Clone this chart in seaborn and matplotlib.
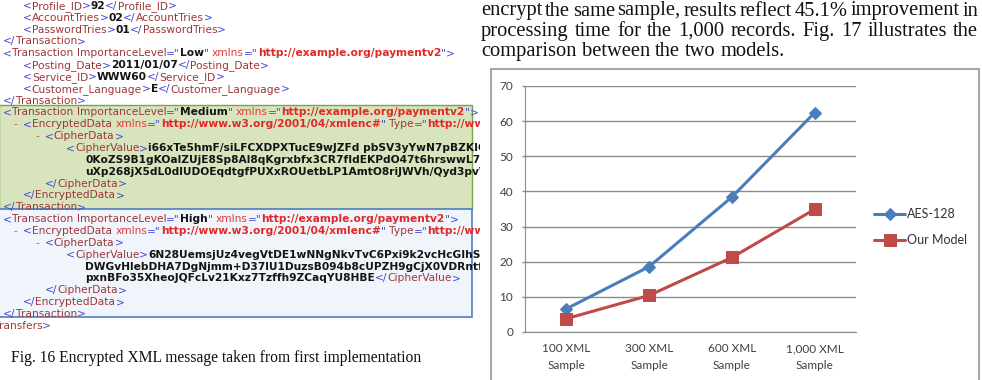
import re
import numpy as np
import pandas as pd
import seaborn as sns
import matplotlib
matplotlib.use("Agg")
import matplotlib.pyplot as plt
from matplotlib.font_manager import FontProperties, findfont, get_font
from matplotlib.backends.backend_agg import get_hinting_flag
from matplotlib.patches import Rectangle

# ---- chart data (Fig. 17) ----
samples = ["100 XML\nSample", "300 XML\nSample", "600 XML\nSample", "1,000 XML\nSample"]
aes_128 = [6.6, 18.6, 38.4, 62.4]
our_model = [3.8, 10.4, 21.2, 34.9]
y_ticks = [0, 10, 20, 30, 40, 50, 60, 70]

# ---- page text ----
paragraph = [
    "encrypt the same sample, results reflect 45.1% improvement in",
    "processing time for the 1,000 records. Fig. 17 illustrates the",
    "comparison between the two models.",
]
caption = "Fig. 16 Encrypted XML message taken from first implementation"

# (indent level, line) of the XML screenshot
xml_lines = [
    (1, '<Profile_ID>92</Profile_ID>'),
    (1, '<AccountTries>02</AccountTries>'),
    (1, '<PasswordTries>01</PasswordTries>'),
    (0, '</Transaction>'),
    (0, '<Transaction ImportanceLevel="Low" xmlns="http://example.org/paymentv2">'),
    (1, '<Posting_Date>2011/01/07</Posting_Date>'),
    (1, '<Service_ID>WWW60</Service_ID>'),
    (1, '<Customer_Language>E</Customer_Language>'),
    (0, '</Transaction>'),
    (0, '<Transaction ImportanceLevel="Medium" xmlns="http://example.org/paymentv2">'),
    (1, '- <EncryptedData xmlns="http://www.w3.org/2001/04/xmlenc#" Type="http://www.w3.org/2001/04/xmlenc#Element">'),
    (2, '- <CipherData>'),
    (3, '<CipherValue>i66xTe5hmF/siLFCXDPXTucE9wJZFd pbSV3yYwN7pBZKICxqW'),
    (4, '0KoZS9B1gKOalZUjE8Sp8Al8qKgrxbfx3CR7fIdEKPdO47t6hrswwL7leQ'),
    (4, 'uXp268jX5dL0dlUDOEqdtgfPUXxROUetbLP1AmtO8riJWVh/Qyd3pvVk'),
    (2, '</CipherData>'),
    (1, '</EncryptedData>'),
    (0, '</Transaction>'),
    (0, '<Transaction ImportanceLevel="High" xmlns="http://example.org/paymentv2">'),
    (1, '- <EncryptedData xmlns="http://www.w3.org/2001/04/xmlenc#" Type="http://www.w3.org/2001/04/xmlenc#Element">'),
    (2, '- <CipherData>'),
    (3, '<CipherValue>6N28UemsjUz4vegVtDE1wNNgNkvTvC6Pxi9k2vcHcGIhSeK'),
    (4, 'DWGvHlebDHA7DgNjmm+D37lU1DuzsB094b8cUPZH9gCjX0VDRntfDq'),
    (4, 'pxnBFo35XheoJQFcLv21Kxz7Tzffh9ZCaqYU8HBE</CipherValue>'),
    (2, '</CipherData>'),
    (1, '</EncryptedData>'),
    (0, '</Transaction>'),
    (-1, '</Transfers>'),
]

sns.set_style("white")
plt.rcParams['font.family'] = ['DejaVu Sans']

DPI = 100
fig = plt.figure(figsize=(9.82, 3.8), dpi=DPI)
renderer = fig.canvas.get_renderer()


def adv(s, prop):
    # pen advance of s in pixels, read from the glyph positions of s + ' '
    try:
        font = get_font(findfont(prop))
        font.clear()
        font.set_size(prop.get_size_in_points(), DPI)
        xys = np.asarray(font.set_text(s + ' ', 0.0, flags=get_hinting_flag()), dtype=float)
        return xys.reshape(-1, 2)[-1, 0] / 64.0
    except Exception:
        w1 = renderer.get_text_width_height_descent('|' + s + '|', prop, ismath=False)[0]
        w0 = renderer.get_text_width_height_descent('||', prop, ismath=False)[0]
        return w1 - w0


# background axes in pixel units
bg = fig.add_axes([0, 0, 1, 1])
bg.set_xlim(0, 982)
bg.set_ylim(380, 0)
bg.axis('off')

# ---------------- left: XML screenshot ----------------
left = fig.add_axes([0, 0, 480 / 982, 1])
left.set_xlim(0, 480)
left.set_ylim(380, 0)
left.axis('off')

left.add_patch(Rectangle((-1, 105), 473, 104, fc='#d8e4bd', ec='#7aa446', lw=1, clip_on=True))
left.add_patch(Rectangle((-1, 209), 473, 108, fc='#f0f4fb', ec='#4f7fc4', lw=1.2, clip_on=True))

styles = {
    'br': ('#4646d2', 'normal'),
    'tag': ('#9e3636', 'normal'),
    'ns': ('#e43a3a', 'normal'),
    'val': ('#141414', 'bold'),
    'rval': ('#e02828', 'bold'),
    'dash': ('#e05050', 'normal'),
}


def tokenize(s):
    out = []
    if s.startswith('- '):
        out.append(('- ', 'dash'))
        s = s[2:]
    pos = 0
    while pos < len(s):
        if s[pos] == '<':
            m = re.match(r'(</?)(\w+)', s[pos:])
            out.append((m.group(1), 'br'))
            out.append((m.group(2), 'tag'))
            pos += m.end()
            while True:
                m = re.match(r'( +)(\w+)(=")([^"]*)(")', s[pos:])
                if not m:
                    break
                name, val = m.group(2), m.group(4)
                out.append((m.group(1), 'br'))
                out.append((name, 'ns' if name == 'xmlns' else 'tag'))
                out.append(('="', 'br'))
                out.append((val, 'rval' if val.startswith('http') else 'val'))
                out.append(('"', 'br'))
                pos += m.end()
            m = re.match(r'/?>', s[pos:])
            if m:
                out.append((m.group(0), 'br'))
                pos += m.end()
        else:
            nxt = s.find('<', pos)
            nxt = len(s) if nxt < 0 else nxt
            out.append((s[pos:nxt], 'val'))
            pos = nxt
    return out


def xml_prop(style, size):
    return FontProperties(family='DejaVu Sans', weight=styles[style][1], size=size)


# fit font size so the "Low" transaction line spans ~449 px
ref_tokens = tokenize(xml_lines[4][1])
ref_w = sum(adv(t, xml_prop(st, 10)) for t, st in ref_tokens)
xml_size = 10 * 449 / ref_w

indent_x = {-1: -19, 0: 3, 1: 23, 2: 45, 3: 66, 4: 85}
dash_x = {1: 13, 2: 35}
line_h = 11.85
for i, (level, line) in enumerate(xml_lines):
    y = 5 + i * line_h + 0.36 * xml_size * DPI / 72
    toks = tokenize(line)
    x = indent_x[level]
    if toks[0][1] == 'dash':
        x = dash_x[level]
    for t, st in toks:
        prop = xml_prop(st, xml_size)
        if st == 'dash':
            left.text(x, y, '-', fontproperties=prop, color=styles[st][0],
                      ha='left', va='baseline', clip_on=True)
            x = indent_x[level]
            continue
        left.text(x, y, t, fontproperties=prop, color=styles[st][0],
                  ha='left', va='baseline', clip_on=True)
        x += adv(t, prop)

# caption
cap_prop10 = FontProperties(family='Liberation Serif', size=10)
cap_size = 10 * 411 / adv(caption, cap_prop10)
left.text(11, 362, caption, fontproperties=FontProperties(family='Liberation Serif', size=cap_size),
          color='#111111', ha='left', va='baseline')

# ---------------- right: paragraph ----------------
p10 = FontProperties(family='Liberation Serif', size=10)
par_size = 10 * 304 / adv(paragraph[2], p10)
pprop = FontProperties(family='Liberation Serif', size=par_size)
par_y = [15.5, 36, 56]
for j, line in enumerate(paragraph):
    words = line.split(' ')
    widths = [adv(w, pprop) for w in words]
    if j < len(paragraph) - 1:
        gap = (497 - sum(widths)) / (len(words) - 1)
    else:
        gap = adv(' ', pprop)
    x = 481
    for w, wd in zip(words, widths):
        bg.text(x, par_y[j], w, fontproperties=pprop, color='#111111', ha='left', va='baseline')
        x += wd + gap

# chart frame
bg.add_patch(Rectangle((491, 69), 488, 330, fc='white', ec='#a8a8a8', lw=1.5))

# ---------------- chart ----------------
ax = fig.add_axes([525 / 982, 48 / 380, 331 / 982, 246 / 380])
ax.patch.set_alpha(0)
df_aes = pd.DataFrame({'sample': samples, 'time': aes_128})
df_our = pd.DataFrame({'sample': samples, 'time': our_model})
sns.lineplot(data=df_aes, x='sample', y='time', sort=False, ax=ax, color='#4a7ebb',
             marker='D', markersize=6, markeredgecolor='#4a7ebb', linewidth=2.2, label='AES-128')
sns.lineplot(data=df_our, x='sample', y='time', sort=False, ax=ax, color='#be4b48',
             marker='s', markersize=9, markeredgecolor='#be4b48', linewidth=2.2, label='Our Model')

tick_font = FontProperties(family='Lato', size=8.5)
ax.set_xlim(-0.5, 3.5)
ax.set_ylim(0, 70)
ax.set_yticks(y_ticks)
ax.set_yticklabels([str(v) for v in y_ticks], fontproperties=tick_font, color='#404040')
ax.set_xticks(range(len(samples)))
ax.set_xticklabels(samples, fontproperties=tick_font, color='#404040', linespacing=1.65)
ax.set_xticks(np.arange(-0.5, len(samples), 1), minor=True)
ax.tick_params(axis='x', which='major', length=0, pad=8)
ax.tick_params(axis='x', which='minor', length=3, color='#8c8c8c', width=1)
ax.tick_params(axis='y', length=2.5, color='#8c8c8c', width=1, pad=6, left=True)
ax.yaxis.grid(True, color='#8c8c8c', linewidth=1)
ax.set_axisbelow(True)
sns.despine(ax=ax)
for sp in ['left', 'bottom']:
    ax.spines[sp].set_color('#8c8c8c')
ax.set_xlabel('')
ax.set_ylabel('')

ax.legend(loc='upper left', bbox_to_anchor=(874 / 982, 1 - 208 / 380), bbox_transform=fig.transFigure,
          frameon=False, handlelength=2.5, handletextpad=0.15, labelspacing=1.15,
          borderpad=0, borderaxespad=0, prop=FontProperties(family='Lato', size=9),
          labelcolor='#333333')

fig.savefig('out.png', dpi=DPI)
